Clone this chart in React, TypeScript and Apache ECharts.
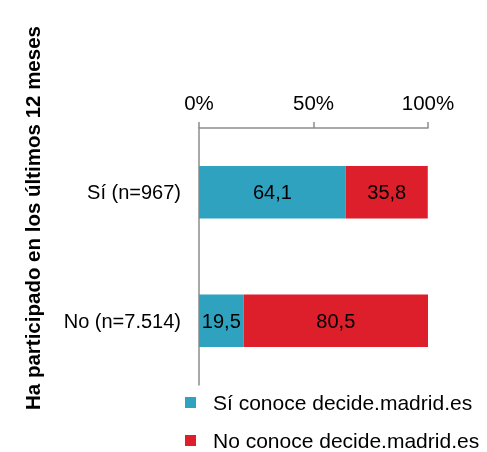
import React, { useEffect, useRef } from "react";
import * as echarts from "echarts";

const categories = ["Sí (n=967)", "No (n=7.514)"];
const siConoce = [64.1, 19.5];
const noConoce = [35.8, 80.5];
const seriesNames = ["Sí conoce decide.madrid.es", "No conoce decide.madrid.es"];
const xTicks = [0, 50, 100];
const axisTitle = "Ha participado en los últimos 12 meses";

export default function App() {
  const ref = useRef<HTMLDivElement>(null);
  useEffect(() => {
    const chart = echarts.init(ref.current!, null, { renderer: "svg" });
    const font = "Liberation Sans, Arial, sans-serif";
    const label = {
      show: true,
      position: "inside",
      color: "#000",
      fontSize: 20,
      fontFamily: font,
      formatter: (p: any) => String(p.value).replace(".", ","),
    };
    chart.setOption({
      animation: false,
      textStyle: { fontFamily: font },
      grid: { left: 199, right: 59, top: 128, bottom: 67, containLabel: false },
      xAxis: {
        type: "value",
        position: "top",
        min: xTicks[0],
        max: xTicks[xTicks.length - 1],
        interval: 50,
        axisLine: { show: true, lineStyle: { color: "#8c8c8c", width: 1.5 } },
        axisTick: { show: true, length: 6, lineStyle: { color: "#8c8c8c", width: 1.5 } },
        splitLine: { show: false },
        axisLabel: { formatter: "{value}%", color: "#000", fontSize: 20.5, fontFamily: font, margin: 15 },
      },
      yAxis: {
        type: "category",
        data: categories,
        inverse: true,
        axisLine: { show: true, lineStyle: { color: "#8c8c8c", width: 1.5 } },
        axisTick: { show: false },
        axisLabel: { color: "#000", fontSize: 20, fontFamily: font, margin: 18 },
      },
      legend: {
        orient: "vertical",
        left: 185,
        top: 392,
        padding: 0,
        height: 60,
        itemGap: 17,
        itemWidth: 11,
        itemHeight: 11,
        icon: "rect",
        textStyle: { color: "#000", fontSize: 21, fontFamily: font, padding: [0, 0, 0, 12] },
        data: seriesNames,
      },
      graphic: [
        {
          type: "text",
          x: 32,
          y: 218,
          rotation: Math.PI / 2,
          style: {
            text: axisTitle,
            font: "bold 20.5px Liberation Sans, Arial, sans-serif",
            fill: "#000",
            align: "center",
            verticalAlign: "middle",
          },
        },
      ],
      series: [
        {
          name: seriesNames[0],
          type: "bar",
          stack: "total",
          barWidth: "41%",
          data: siConoce,
          itemStyle: { color: "#2EA2BF" },
          label,
        },
        {
          name: seriesNames[1],
          type: "bar",
          stack: "total",
          barWidth: "41%",
          data: noConoce,
          itemStyle: { color: "#DC1F2B" },
          label,
        },
      ],
    });
    return () => chart.dispose();
  }, []);
  return <div ref={ref} style={{ position: "fixed", left: 0, top: 0, width: 487, height: 452 }} />;
}
